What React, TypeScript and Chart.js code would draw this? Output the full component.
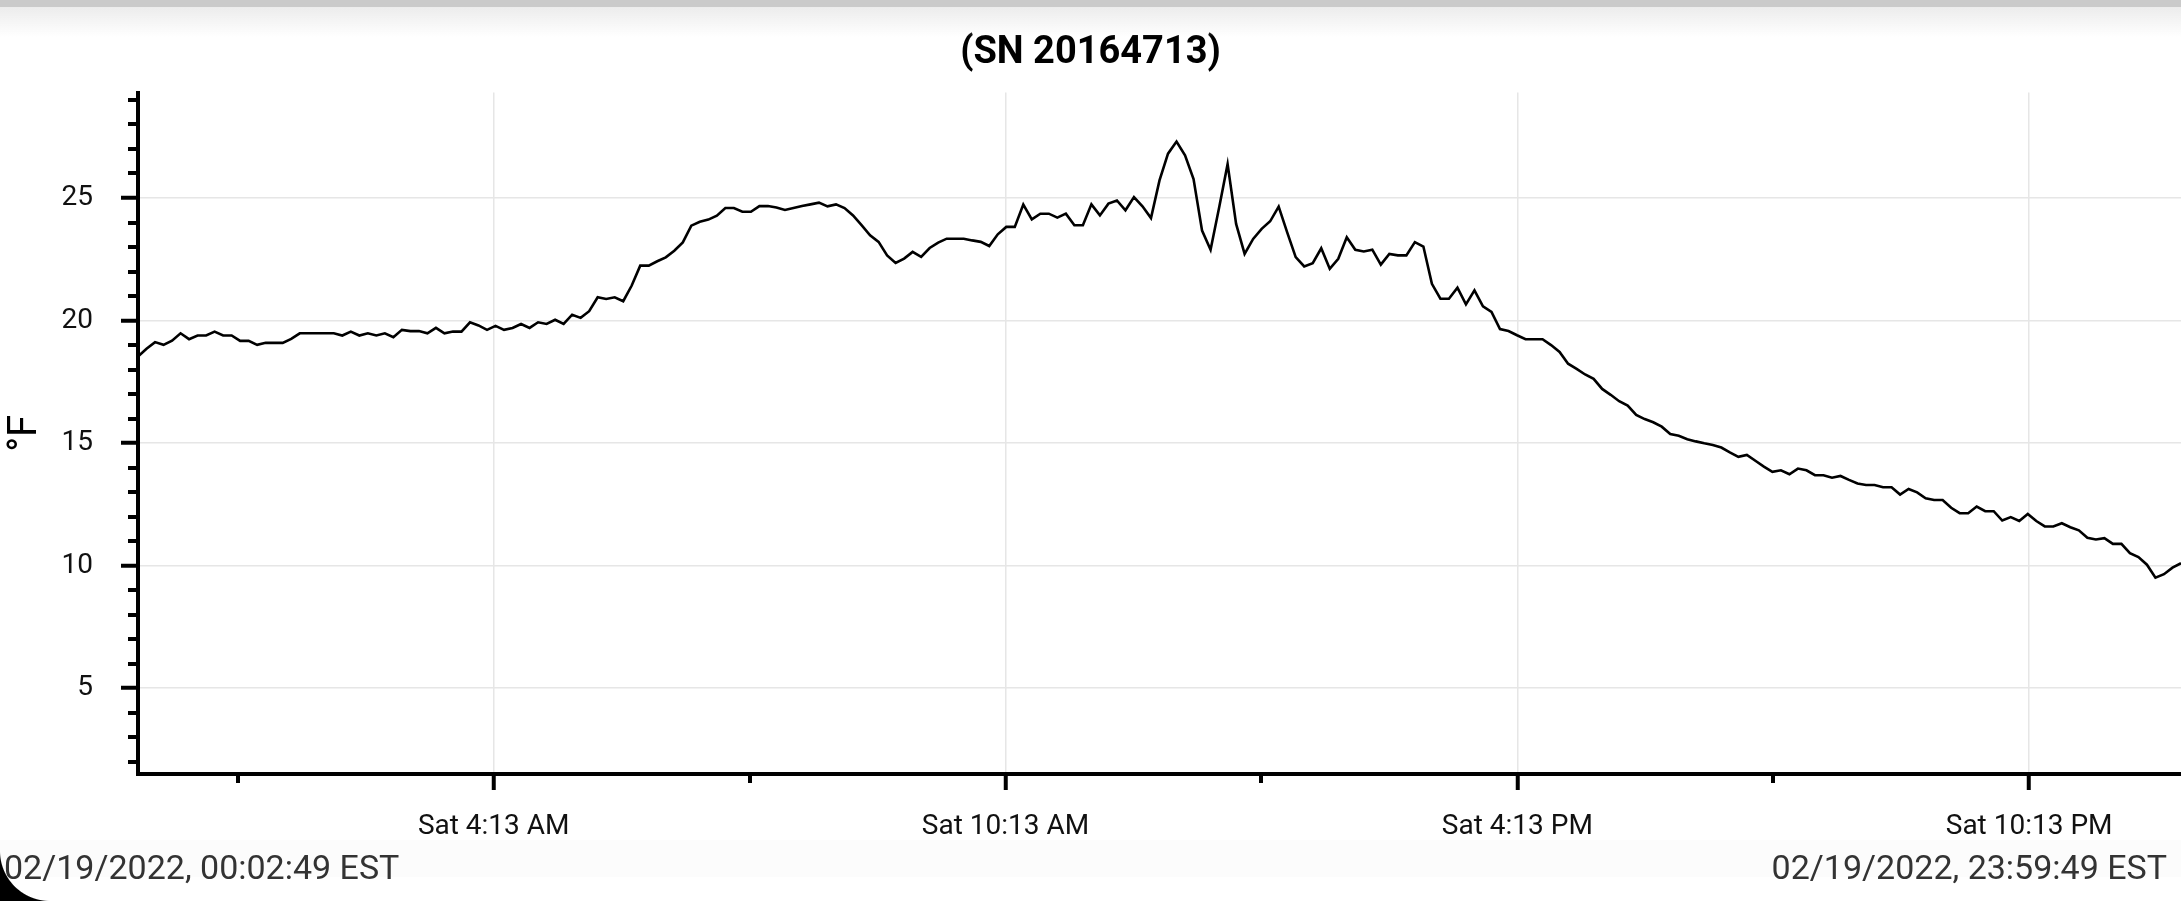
import React, { useEffect, useRef } from "react";
import { Chart, registerables } from "chart.js";

Chart.register(...registerables);

const TITLE = "(SN 20164713)";
const Y_AXIS_LABEL = "°F";
const START_LABEL = "02/19/2022, 00:02:49 EST";
const END_LABEL = "02/19/2022, 23:59:49 EST";

// minutes since midnight of first and last reading
const START_MIN = 2 + 49 / 60;
const END_MIN = 23 * 60 + 59 + 49 / 60;

// temperature readings (°F), evenly spaced from START to END
const temperatures = [
  18.53, 18.85, 19.12, 19.01, 19.18, 19.48, 19.24, 19.39, 19.39, 19.55,
  19.39, 19.39, 19.17, 19.17, 19.01, 19.09, 19.09, 19.09, 19.25, 19.48,
  19.48, 19.48, 19.48, 19.48, 19.39, 19.55, 19.39, 19.48, 19.39, 19.48,
  19.32, 19.62, 19.57, 19.57, 19.48, 19.7, 19.48, 19.55, 19.55, 19.93,
  19.8, 19.62, 19.78, 19.62, 19.7, 19.86, 19.7, 19.93, 19.86, 20.03,
  19.86, 20.24, 20.11, 20.38, 20.95, 20.88, 20.95, 20.79, 21.43, 22.24,
  22.24, 22.42, 22.58, 22.85, 23.19, 23.87, 24.03, 24.12, 24.28, 24.59,
  24.59, 24.44, 24.44, 24.67, 24.67, 24.61, 24.51, 24.59, 24.67, 24.74,
  24.81, 24.66, 24.74, 24.59, 24.29, 23.89, 23.48, 23.21, 22.66, 22.35,
  22.53, 22.8, 22.6, 22.96, 23.18, 23.34, 23.34, 23.34, 23.27, 23.21,
  23.04, 23.52, 23.82, 23.82, 24.73, 24.13, 24.36, 24.36, 24.2, 24.36,
  23.89, 23.89, 24.74, 24.29, 24.77, 24.9, 24.5, 25.04, 24.66, 24.18,
  25.72, 26.81, 27.3, 26.74, 25.77, 23.67, 22.89, 24.6, 26.38, 23.94,
  22.72, 23.33, 23.74, 24.05, 24.65, 23.6, 22.59, 22.21, 22.34, 22.95,
  22.11, 22.52, 23.4, 22.89, 22.82, 22.89, 22.28, 22.72, 22.66, 22.66,
  23.2, 23.02, 21.5, 20.89, 20.89, 21.34, 20.66, 21.23, 20.58, 20.35,
  19.65, 19.57, 19.4, 19.24, 19.24, 19.24, 19.0, 18.72, 18.24, 18.03,
  17.8, 17.62, 17.21, 16.97, 16.71, 16.53, 16.15, 15.98, 15.85, 15.67,
  15.37, 15.3, 15.16, 15.07, 14.99, 14.92, 14.82, 14.62, 14.44, 14.52,
  14.28, 14.04, 13.83, 13.89, 13.73, 13.96, 13.89, 13.69, 13.69, 13.59,
  13.66, 13.5, 13.35, 13.29, 13.29, 13.2, 13.2, 12.9, 13.13, 12.99,
  12.75, 12.68, 12.68, 12.36, 12.14, 12.14, 12.41, 12.22, 12.22, 11.84,
  11.98, 11.82, 12.11, 11.82, 11.6, 11.6, 11.73, 11.57, 11.44, 11.14,
  11.07, 11.12, 10.89, 10.89, 10.51, 10.35, 10.04, 9.51, 9.65, 9.92,
  10.1,
];

const Y_MIN = 1.5;
const Y_MAX = 29.3;
const yMajorTicks = [5, 10, 15, 20, 25];
// x ticks in minutes since midnight
const xMajorTicks = [253, 613, 973, 1333]; // 4:13 AM, 10:13 AM, 4:13 PM, 10:13 PM
const xMinorTicks = [73, 433, 793, 1153];
const DAY_PREFIX = "Sat";

function formatTime(min: number): string {
  const h24 = Math.floor(min / 60);
  const m = Math.round(min - h24 * 60);
  const ampm = h24 >= 12 ? "PM" : "AM";
  let h = h24 % 12;
  if (h === 0) h = 12;
  return `${DAY_PREFIX} ${h}:${String(m).padStart(2, "0")} ${ampm}`;
}

const W = 2181;
const H = 901;
const FONT = "Roboto";

const minorTicksPlugin = {
  id: "minorTicks",
  afterDraw(chart: any) {
    const { ctx, chartArea } = chart;
    const ys = chart.scales.y;
    const xs = chart.scales.x;
    ctx.save();
    ctx.strokeStyle = "#000";
    ctx.lineWidth = 4;
    ctx.beginPath();
    for (let v = Math.ceil(Y_MIN); v <= Math.floor(Y_MAX); v++) {
      if (v % 5 === 0) continue;
      const y = Math.round(ys.getPixelForValue(v));
      ctx.moveTo(chartArea.left - 10, y);
      ctx.lineTo(chartArea.left, y);
    }
    for (const m of xMinorTicks) {
      const x = Math.round(xs.getPixelForValue(m));
      ctx.moveTo(x, chartArea.bottom);
      ctx.lineTo(x, chartArea.bottom + 9);
    }
    ctx.stroke();
    ctx.restore();
  },
};

export default function App() {
  const canvasRef = useRef<HTMLCanvasElement | null>(null);

  useEffect(() => {
    if (!canvasRef.current) return;
    const step = (END_MIN - START_MIN) / (temperatures.length - 1);
    const points = temperatures.map((v, i) => ({ x: START_MIN + i * step, y: v }));

    const chart = new Chart(canvasRef.current, {
      type: "line",
      data: {
        datasets: [
          {
            data: points,
            borderColor: "#000",
            borderWidth: 2.6,
            pointRadius: 0,
            tension: 0,
            fill: false,
          },
        ],
      },
      options: {
        animation: false,
        responsive: false,
        devicePixelRatio: 1,
        layout: { padding: { left: 0, right: 0, top: 0, bottom: 0 } },
        font: { family: FONT },
        plugins: {
          legend: { display: false },
          tooltip: { enabled: false },
          title: {
            display: true,
            text: TITLE,
            color: "#000",
            font: { family: FONT, size: 38, weight: "bold" },
            padding: { top: 31, bottom: 16 },
          },
        },
        scales: {
          x: {
            type: "linear",
            min: START_MIN,
            max: END_MIN,
            afterBuildTicks: (scale: any) => {
              scale.ticks = xMajorTicks.map((v) => ({ value: v }));
            },
            afterFit: (scale: any) => {
              scale.height = H - 774;
            },
            border: { display: true, color: "#000", width: 4 },
            grid: {
              color: "#e6e6e6",
              lineWidth: 1.5,
              drawTicks: true,
              tickLength: 16,
              tickColor: "#000",
              tickWidth: 4,
            },
            ticks: {
              autoSkip: false,
              maxRotation: 0,
              minRotation: 0,
              padding: 20,
              color: "#111",
              font: { family: FONT, size: 28 },
              callback: (v: any) => formatTime(Number(v)),
            },
          },
          y: {
            type: "linear",
            min: Y_MIN,
            max: Y_MAX,
            afterBuildTicks: (scale: any) => {
              scale.ticks = yMajorTicks.map((v) => ({ value: v }));
            },
            afterFit: (scale: any) => {
              scale.width = 138;
            },
            border: { display: true, color: "#000", width: 4 },
            grid: {
              color: "#e6e6e6",
              lineWidth: 1.5,
              drawTicks: true,
              tickLength: 17,
              tickColor: "#000",
              tickWidth: 4,
            },
            ticks: {
              padding: 28,
              color: "#111",
              font: { family: FONT, size: 28 },
              callback: (v: any) => String(v),
            },
            title: {
              display: true,
              text: Y_AXIS_LABEL,
              color: "#000",
              font: { family: FONT, size: 40, lineHeight: 1 },
              padding: { top: 6, bottom: 0 },
            },
          },
        },
      },
      plugins: [minorTicksPlugin],
    } as any);

    return () => chart.destroy();
  }, []);

  return (
    <div
      style={{
        position: "absolute",
        left: 0,
        top: 0,
        width: W,
        height: H,
        overflow: "hidden",
        background: "#fff",
        fontFamily: FONT,
      }}
    >
      <div
        style={{
          position: "absolute",
          left: 0,
          top: 840,
          width: W,
          height: 37,
          background: "#fcfcfc",
        }}
      />
      <canvas
        ref={canvasRef}
        width={W}
        height={H}
        style={{ position: "absolute", left: 0, top: 0, width: W, height: H }}
      />
      <div
        style={{
          position: "absolute",
          left: 0,
          top: 0,
          width: W,
          height: 7,
          background: "#cacaca",
        }}
      />
      <div
        style={{
          position: "absolute",
          left: 0,
          top: 7,
          width: W,
          height: 30,
          background: "linear-gradient(#ececec, rgba(255,255,255,0))",
        }}
      />
      <div
        style={{
          position: "absolute",
          left: 4,
          top: 850,
          fontSize: 34,
          lineHeight: "34px",
          color: "#333",
          whiteSpace: "nowrap",
        }}
      >
        {START_LABEL}
      </div>
      <div
        style={{
          position: "absolute",
          right: 14,
          top: 850,
          fontSize: 34,
          lineHeight: "34px",
          color: "#333",
          whiteSpace: "nowrap",
        }}
      >
        {END_LABEL}
      </div>
      <div
        style={{
          position: "absolute",
          left: 0,
          top: 851,
          width: 50,
          height: 50,
          background: "radial-gradient(circle at 100% 0, rgba(0,0,0,0) 49.5px, #000 50.5px)",
        }}
      />
    </div>
  );
}
